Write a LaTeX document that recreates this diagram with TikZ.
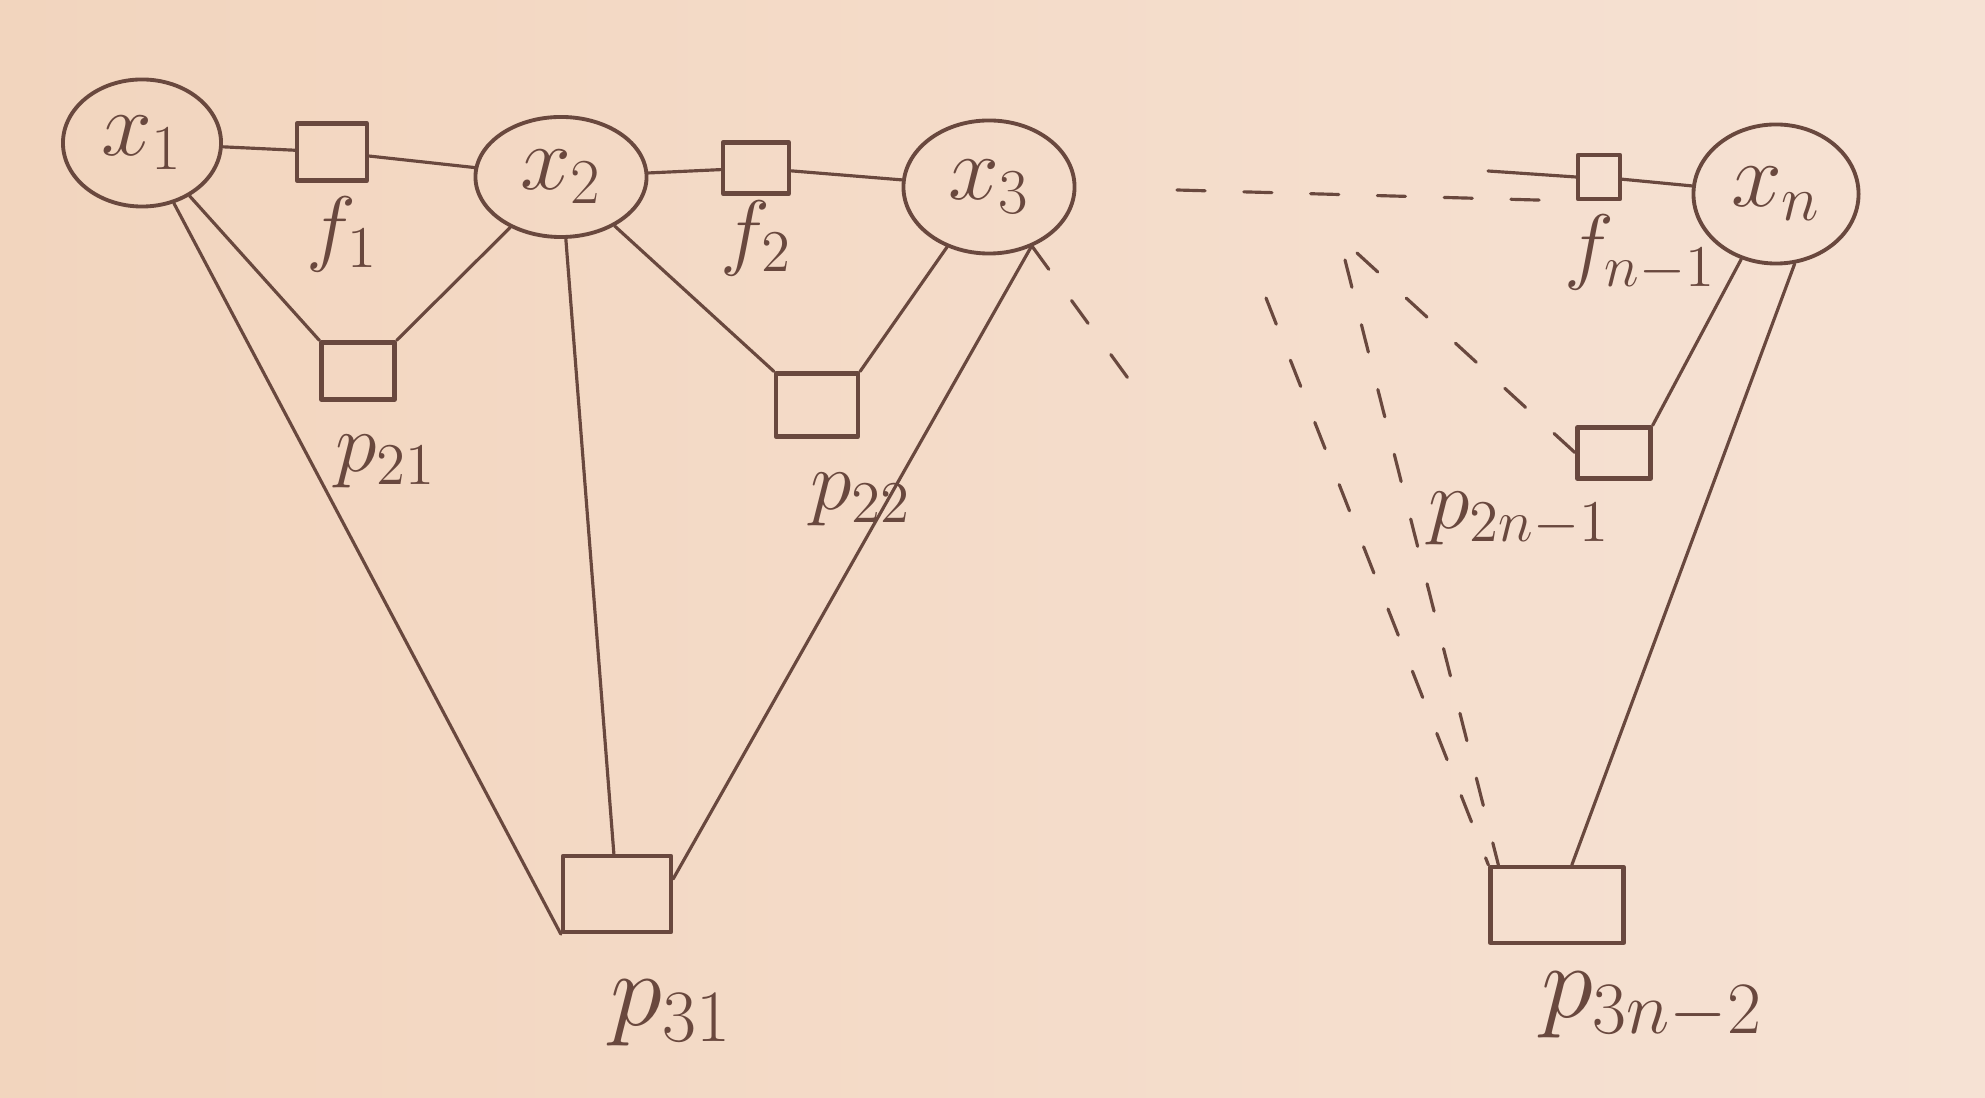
\documentclass[tikz,border=0pt]{standalone}
\usepackage{fix-cm}
\usetikzlibrary{shapes.geometric}
\definecolor{paper}{RGB}{242,213,190}
\definecolor{paperlt}{RGB}{246,226,212}
\definecolor{ink}{RGB}{105,72,62}
\tikzset{
	var/.style={draw=ink,ellipse,line width=1.1pt,inner sep=0pt,text=ink,font=\fontsize{26}{30}\selectfont},
	fac/.style={draw=ink,rectangle,line width=1.2pt,inner sep=0pt},
	lab/.style={text=ink,font=\fontsize{24}{28}\selectfont},
	biglab/.style={text=ink,font=\fontsize{30}{34}\selectfont},
	edge/.style={draw=ink,line width=0.9pt},
	dedge/.style={edge,dash pattern=on 8pt off 11pt}
}
\begin{document}
\begin{tikzpicture}[x=0.01cm,y=-0.01cm,line join=round,line cap=round]
	\shade[left color=paper,right color=paperlt] (0,0) rectangle (1985,1098);
	% variables
	\node[var,minimum width=1.58cm,minimum height=1.27cm] (x1) at (142,143) {$x_1$};
	\node[var,minimum width=1.71cm,minimum height=1.20cm] (x2) at (561,177) {$x_2$};
	\node[var,minimum width=1.71cm,minimum height=1.33cm] (x3) at (989,187) {$x_3$};
	\node[var,minimum width=1.65cm,minimum height=1.39cm] (xn) at (1776,194) {$x_n$};
	% factors
	\node[fac,minimum width=0.70cm,minimum height=0.57cm] (f1) at (332,152) {};
	\node[fac,minimum width=0.66cm,minimum height=0.51cm] (f2) at (756,168) {};
	\node[fac,minimum width=0.42cm,minimum height=0.44cm] (fn1) at (1599,177) {};
	\node[fac,minimum width=0.73cm,minimum height=0.57cm] (p21) at (358,371) {};
	\node[fac,minimum width=0.82cm,minimum height=0.63cm] (p22) at (817,405) {};
	\node[fac,minimum width=0.73cm,minimum height=0.51cm] (p2n1) at (1614,453) {};
	\node[fac,minimum width=1.08cm,minimum height=0.76cm] (p31) at (617,894) {};
	\node[fac,minimum width=1.33cm,minimum height=0.76cm] (p3n2) at (1557,905) {};
	% labels
	\node[lab] (lf1) at (342,234) {$f_1$};
	\node[lab] (lf2) at (756,238) {$f_2$};
	\node[lab] (lfn1) at (1640,253) {$f_{n-1}$};
	\node[lab] (lp21) at (386,462) {$p_{21}$};
	\node[lab] (lp22) at (861,500) {$p_{22}$};
	\node[lab] (lp2n1) at (1519,519) {$p_{2n-1}$};
	\node[biglab] (lp31) at (671,1013) {$p_{31}$};
	\node[biglab] (lp3n2) at (1652,1006) {$p_{3n-2}$};
	% edges
	\foreach \a/\b in {x1/f1,f1/x2,x2/f2,f2/x3,fn1/xn,
		x1/p21.north west,x2/p21.north east,x2/p22.north west,x3/p22.north east,xn/p2n1.north east,
		x1/p31.south west,x2/p31,x3.-55/p31.15,xn.-75/p3n2}
		\draw[edge] (\a) -- (\b);
	% the dots between x3 and xn
	\coordinate (d1) at (1146,403);
	\coordinate (d2) at (1177,190);
	\coordinate (d3) at (1488,171);
	\coordinate (a1) at (1266,298);
	\coordinate (b1) at (1345,260);
	\coordinate (c1) at (1357,253);
	\draw[dedge] (x3) -- (d1);
	\draw[dedge] (d2) -- (fn1.south west);
	\draw[edge] (d3) -- (fn1.west);
	\draw[dedge] (a1) -- (p3n2.north west);
	\draw[dedge] (b1) -- ([xshift=0.1cm]p3n2.north west);
	\draw[dedge] (c1) -- (p2n1.west);
\end{tikzpicture}
\end{document}
